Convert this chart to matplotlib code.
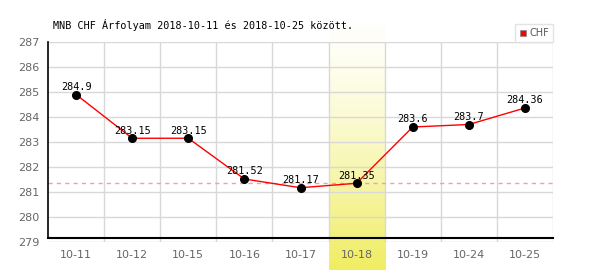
import numpy as np
from matplotlib import pyplot as plt
from matplotlib.lines import Line2D

dates = ['10-11', '10-12', '10-15', '10-16', '10-17', '10-18', '10-19', '10-24', '10-25']
rates = [284.9, 283.15, 283.15, 281.52, 281.17, 281.35, 283.6, 283.7, 284.36]
labels = ['284.9', '283.15', '283.15', '281.52', '281.17', '281.35', '283.6', '283.7', '284.36']
avg_line = 281.36
highlight = 5

fig = plt.figure(figsize=(6, 2.7), dpi=100)
ax = fig.add_axes([48/600, 28/270, 505/600, 200/270])

x = np.arange(len(dates))

# highlighted day: vertical gradient band, reaching under the axis
grad = np.linspace(0, 1, 256) ** 1.4
top = np.array([1.0, 1.0, 0.98])
bot = np.array([0.94, 0.93, 0.38])
img = top + (bot - top) * grad.reshape(256, 1, 1)
ax.imshow(img, extent=(highlight - 0.5, highlight + 0.5, 277.88, 287.68),
          aspect='auto', clip_on=False, zorder=0, origin='upper')

ax.set_xlim(-0.5, len(dates) - 0.5)
ax.set_ylim(279, 287)

for v in range(279, 288):
    ax.axhline(v, color='#d8d8d8', lw=1, zorder=1)
for i in range(len(dates)):
    ax.axvline(i + 0.5, color='#d8d8d8', lw=1, zorder=1)

ax.axhline(avg_line, color='#f4a0a0', lw=1, ls=(0, (3, 3)), zorder=2)

ax.plot(x, rates, color='red', lw=1, zorder=3)
ax.plot(x, rates, 'o', color='black', ms=5.5, zorder=4)
for xi, yi, t in zip(x, rates, labels):
    ax.text(xi, yi + 0.1, t, ha='center', va='bottom', fontsize=7.3,
            family='DejaVu Sans Mono', zorder=5)

for s in ['top', 'right', 'bottom']:
    ax.spines[s].set_visible(False)
ax.spines['left'].set_bounds(279.16, 287)
ax.spines['left'].set_linewidth(1.2)
ax.plot([-0.5, len(dates) - 0.5], [279.16, 279.16], color='black', lw=1.5,
        clip_on=False, zorder=6)

ax.set_xticks(x)
ax.set_xticklabels(dates)
ax.set_yticks(range(279, 288))
ax.tick_params(length=0, labelsize=8, colors='#666666', pad=6)

ax.legend(handles=[Line2D([], [], marker='s', ls='', color='red', ms=5,
                          markeredgecolor='#888888', markeredgewidth=0.5)],
          labels=['CHF'], loc='lower right', bbox_to_anchor=(1.0, 1.0),
          frameon=True, fancybox=False, edgecolor='#dddddd', fontsize=7,
          handlelength=0.8, handletextpad=0.3, borderpad=0.4,
          labelcolor='#555555', borderaxespad=0)

fig.text(53/600, 1 - 25/270, 'MNB CHF Árfolyam 2018-10-11 és 2018-10-25 között.',
         fontsize=7.3, family='DejaVu Sans Mono', va='center')

fig.savefig('out.png')
